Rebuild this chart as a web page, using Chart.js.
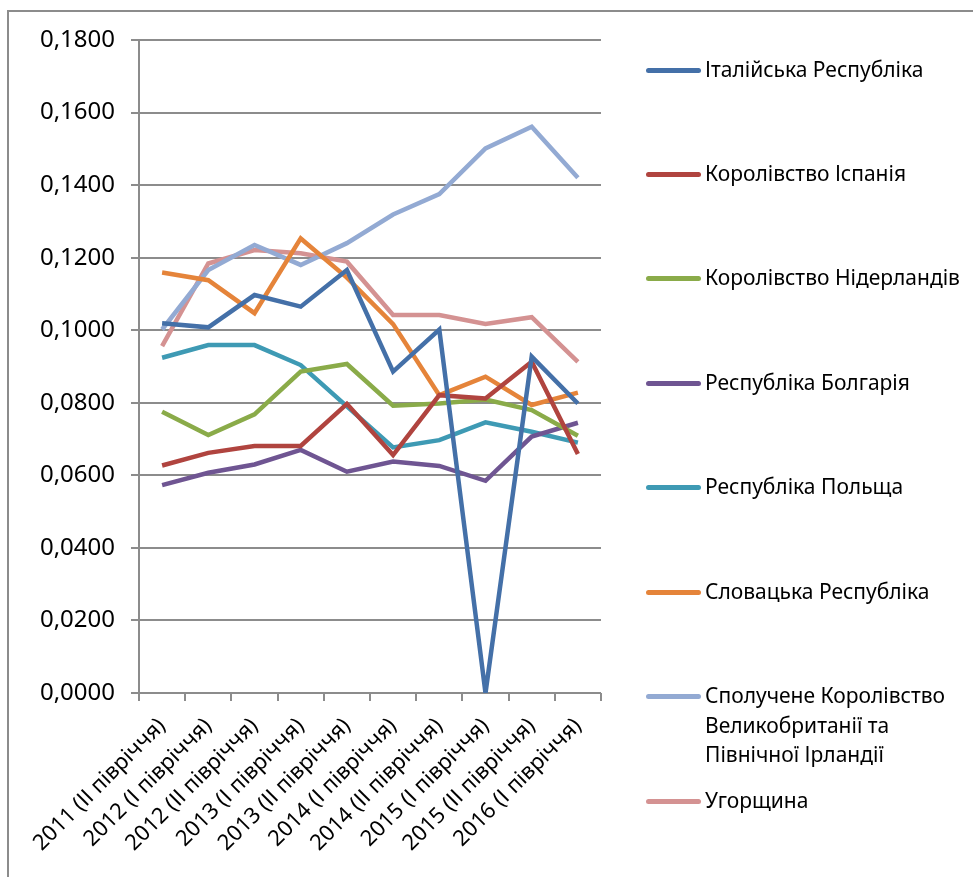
<!DOCTYPE html>
<html>
<head>
<meta charset="utf-8">
<script src="https://cdn.jsdelivr.net/npm/chart.js@4/dist/chart.umd.min.js"></script>
<style>
  body { margin: 0; background: #fff; width: 973px; height: 877px; overflow: hidden; position: relative; font-family: "Noto Sans", sans-serif; }
  #frame { position: absolute; left: 7px; top: 10px; width: 1000px; height: 900px; border: 2px solid #8c8c8c; box-sizing: border-box; }
  #myChart { position: absolute; left: 0; top: 0; }
  #legend { position: absolute; left: 0; top: 0; }
  .item { position: absolute; left: 646px; }
  .item .swatch { position: absolute; left: 0; width: 55px; height: 5px; border-radius: 3px; }
  .item .txt { position: absolute; left: 59px; font-size: 21px; line-height: 29.5px; color: #000; white-space: nowrap; }
</style>
</head>
<body>
<div id="frame"></div>
<canvas id="myChart" width="973" height="877"></canvas>
<div id="legend"></div>
<script>
var periods = ["2011 (ІІ півріччя)", "2012 (І півріччя)", "2012 (ІІ півріччя)", "2013 (І півріччя)", "2013 (ІІ півріччя)",
               "2014 (І півріччя)", "2014 (ІІ півріччя)", "2015 (І півріччя)", "2015 (ІІ півріччя)", "2016 (І півріччя)"];

var italy    = [0.1019, 0.1008, 0.1097, 0.1065, 0.1166, 0.0886, 0.1002, 0.0000, 0.0927, 0.0798];
var spain    = [0.0627, 0.0662, 0.0681, 0.0681, 0.0797, 0.0656, 0.0821, 0.0812, 0.0913, 0.0659];
var nether   = [0.0775, 0.0711, 0.0768, 0.0886, 0.0907, 0.0792, 0.0798, 0.0809, 0.0780, 0.0709];
var bulgaria = [0.0573, 0.0607, 0.0630, 0.0670, 0.0610, 0.0638, 0.0626, 0.0585, 0.0707, 0.0745];
var poland   = [0.0924, 0.0959, 0.0959, 0.0904, 0.0790, 0.0677, 0.0697, 0.0746, 0.0720, 0.0690];
var slovakia = [0.1159, 0.1138, 0.1047, 0.1253, 0.1145, 0.1017, 0.0821, 0.0872, 0.0794, 0.0828];
var uk       = [0.1002, 0.1166, 0.1235, 0.1180, 0.1240, 0.1319, 0.1375, 0.1501, 0.1561, 0.1420];
var hungary  = [0.0956, 0.1184, 0.1221, 0.1212, 0.1189, 0.1042, 0.1042, 0.1017, 0.1036, 0.0913];

var names = ["Італійська Республіка", "Королівство Іспанія", "Королівство Нідерландів", "Республіка Болгарія",
             "Республіка Польща", "Словацька Республіка", "Сполучене Королівство Великобританії та Північної Ірландії", "Угорщина"];
var colors = ["#4470a8", "#b0443f", "#8aab49", "#6f5592", "#3e9ab4", "#e5843a", "#93aad3", "#d49292"];
var series = [italy, spain, nether, bulgaria, poland, slovakia, uk, hungary];

// legend text lines (the long name wraps like in the original)
var legendLines = [["Італійська Республіка"], ["Королівство Іспанія"], ["Королівство Нідерландів"], ["Республіка Болгарія"],
                   ["Республіка Польща"], ["Словацька Республіка"], ["Сполучене Королівство", "Великобританії та", "Північної Ірландії"], ["Угорщина"]];
var legendY = [70, 174, 278, 383, 487, 592, 696, 801];

var datasets = [];
for (var i = 0; i < series.length; i++) {
    datasets.push({
        label: names[i],
        data: series[i],
        borderColor: colors[i],
        backgroundColor: colors[i],
        borderWidth: 4.5,
        pointRadius: 0,
        tension: 0,
        fill: false
    });
}

var ctx = document.getElementById('myChart').getContext('2d');
var chart = new Chart(ctx, {
    type: 'line',
    data: { labels: periods, datasets: datasets },
    options: {
        responsive: false,
        animation: false,
        layout: { padding: { left: 0, right: 372, top: 40, bottom: 0 } },
        plugins: { legend: { display: false }, tooltip: { enabled: false } },
        scales: {
            x: {
                offset: true,
                grid: { drawOnChartArea: false, offset: true, tickLength: 8, color: '#8c8c8c', lineWidth: 2 },
                border: { display: false },
                ticks: { minRotation: 45, maxRotation: 45, autoSkip: false, padding: 12, color: '#000',
                         font: { family: 'Noto Sans', size: 22 } },
                afterFit: function (scale) { scale.height = 184; }
            },
            y: {
                min: 0, max: 0.18,
                ticks: { stepSize: 0.02, padding: 16, color: '#000', font: { family: 'Noto Sans', size: 24 },
                         callback: function (v) { return v.toFixed(4).replace('.', ','); } },
                grid: { color: '#8c8c8c', lineWidth: 2, tickLength: 8 },
                border: { color: '#8c8c8c', width: 2 },
                afterFit: function (scale) { scale.width = 139; }
            }
        }
    }
});

var leg = document.getElementById('legend');
for (var j = 0; j < names.length; j++) {
    var item = document.createElement('div');
    item.className = 'item';
    item.style.top = legendY[j] + 'px';
    var sw = document.createElement('div');
    sw.className = 'swatch';
    sw.style.background = colors[j];
    sw.style.top = '-2px';
    var tx = document.createElement('div');
    tx.className = 'txt';
    tx.style.top = '-15px';
    tx.innerHTML = legendLines[j].join('<br>');
    item.appendChild(sw);
    item.appendChild(tx);
    leg.appendChild(item);
}
</script>
</body>
</html>
